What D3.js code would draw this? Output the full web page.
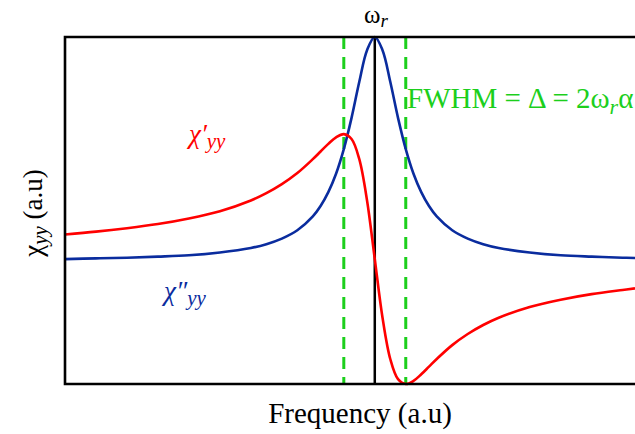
<!DOCTYPE html>
<html><head><meta charset="utf-8">
<script src="https://cdn.jsdelivr.net/npm/d3@7"></script>
</head><body style="margin:0">
<svg id="c" width="635" height="434"></svg>
<script>
// frequency offsets from resonance (a.u., in units of linewidth)
const freq = [-10,-9,-8,-7,-6,-5,-4,-3.5,-3,-2.5,-2,-1.75,-1.5,-1.25,-1,-0.75,-0.5,-0.25,0,0.25,0.5,0.75,1,1.25,1.5,1.75,2,2.5,3,3.5,4,5,6,7,8,8.4];
// chi' (red, dispersive)
const chiReal = [0.431,0.439,0.449,0.461,0.477,0.498,0.529,0.550,0.576,0.608,0.648,0.670,0.692,0.711,0.720,0.706,0.648,0.529,0.360,0.191,0.072,0.014,0.000,0.009,0.028,0.050,0.072,0.112,0.144,0.170,0.191,0.222,0.243,0.259,0.271,0.2755];
// chi'' (blue, absorptive)
const chiImag = [0.360,0.362,0.364,0.367,0.371,0.379,0.392,0.403,0.419,0.443,0.483,0.513,0.553,0.606,0.677,0.767,0.871,0.962,1.000,0.962,0.871,0.767,0.677,0.606,0.553,0.513,0.483,0.443,0.419,0.403,0.392,0.379,0.371,0.367,0.364,0.363];
const resonance = 0;
const halfWidthMarks = [-1, 1];

const svg = d3.select("#c");
const L = 65, R = 635, T = 37, B = 384;
const x = d3.scaleLinear().domain([-10, 8.4]).range([L, R]);
const y = d3.scaleLinear().domain([0, 1]).range([B, T]);
const FONT = '"Liberation Serif"';
const GREEN = "#1ccf1c", BLUE = "#0a2c9e", RED = "#ff0000";

const line = d3.line().x((d,i)=>x(freq[i])).y(d=>y(d)).curve(d3.curveCatmullRom.alpha(0.5));

svg.selectAll("line.fw").data(halfWidthMarks).enter().append("line")
  .attr("x1", d=>x(d)).attr("x2", d=>x(d)).attr("y1", y(1)).attr("y2", y(0))
  .attr("stroke", GREEN).attr("stroke-width", 3).attr("stroke-dasharray", "12,8");

svg.append("line").attr("x1", x(resonance)).attr("x2", x(resonance)).attr("y1", y(1)).attr("y2", y(0))
  .attr("stroke", "#000").attr("stroke-width", 2.5);

svg.append("path").attr("d", line(chiImag)).attr("fill","none").attr("stroke",BLUE).attr("stroke-width",2.6);
svg.append("path").attr("d", line(chiReal)).attr("fill","none").attr("stroke",RED).attr("stroke-width",2.6);

svg.append("path").attr("d", `M${R},${T}H${L}V${B}H${R}`).attr("fill","none").attr("stroke","#000").attr("stroke-width",2.6);

function ff(s){ return s.style("font-family", FONT, "important"); }
function txt(sel){ return ff(sel.append("text")); }
function ts(t, s){ return ff(t.append("tspan").text(s)); }

// omega_r
const om = txt(svg).attr("x", 364).attr("y", 23).attr("font-size", 25);
ts(om, "ω");
ts(om, "r").style("font-style","italic").attr("font-size", 19).attr("dy",4);

// FWHM
const fw = txt(svg).attr("x", 407).attr("y", 108).attr("font-size", 29).attr("fill",GREEN);
ts(fw, "FWHM = Δ = 2ω");
ts(fw, "r").style("font-style","italic").attr("font-size", 22).attr("dy",6);
ts(fw, "α").attr("dy",-6);

// chi'
const cr = txt(svg).attr("x", 189).attr("y", 143).attr("font-size", 27).attr("fill",RED).style("font-style","italic");
ts(cr, "χ′");
ts(cr, "yy").attr("font-size", 21).attr("dy",5);

// chi''
const ci = txt(svg).attr("x", 164).attr("y", 300).attr("font-size", 27).attr("fill",BLUE).style("font-style","italic");
ts(ci, "χ″");
ts(ci, "yy").attr("font-size", 21).attr("dy",5);

// x label
txt(svg).attr("x", 360).attr("y", 423).attr("text-anchor","middle").attr("font-size", 29).text("Frequency (a.u)");

// y label
const yl = txt(svg).attr("transform","translate(42,213) rotate(-90)").attr("text-anchor","middle").attr("font-size", 27);
ts(yl, "χ");
ts(yl, "yy").style("font-style","italic").attr("font-size", 21).attr("dy",5);
ts(yl, " (a.u)").attr("dy",-5);
</script>
</body></html>
